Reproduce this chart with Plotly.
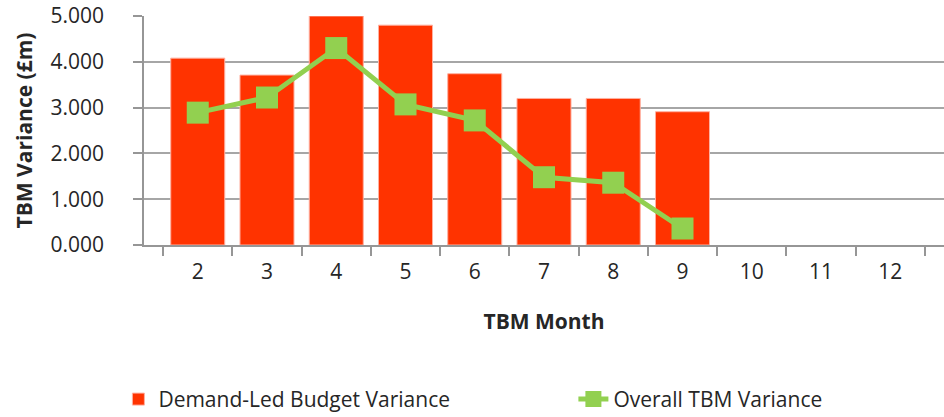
import plotly.graph_objects as go

months = ["2", "3", "4", "5", "6", "7", "8", "9", "10", "11", "12"]
demand_led = [4.08, 3.71, 5.00, 4.80, 3.74, 3.20, 3.20, 2.91, None, None, None]
overall_tbm = [2.89, 3.22, 4.30, 3.07, 2.72, 1.48, 1.36, 0.36, None, None, None]

font_family = "Open Sans, Noto Sans, sans-serif"

fig = go.Figure()
fig.add_trace(go.Bar(
    x=months, y=demand_led, name="Demand-Led Budget Variance",
    marker=dict(color="#FF3300", line=dict(color="#FFB0A0", width=1)),
))
fig.add_trace(go.Scatter(
    x=months, y=overall_tbm, name="Overall TBM Variance",
    mode="lines+markers",
    line=dict(color="#92D050", width=5),
    marker=dict(symbol="square", size=22, color="#92D050"),
))

fig.update_layout(
    width=944, height=417,
    margin=dict(l=144, r=0, t=16, b=172, autoexpand=False),
    paper_bgcolor="white", plot_bgcolor="white",
    font=dict(family=font_family, size=21, color="#262626"),
    bargap=0.22,
    showlegend=True,
    legend=dict(orientation="h", x=-0.032, xanchor="left", xref="paper",
                y=-0.585, yanchor="top", font=dict(size=21, color="#262626"),
                entrywidth=410, entrywidthmode="pixels", tracegroupgap=0),
)
fig.update_xaxes(
    type="category", showline=True, linecolor="#969696", linewidth=1.5,
    ticks="outside", tickson="boundaries", ticklen=9, tickcolor="#969696",
    tickwidth=1.5, showgrid=False, automargin=False,
    tickfont=dict(size=21), ticklabelstandoff=7,
    title=dict(text="<b>TBM Month</b>", font=dict(size=21), standoff=30),
)
fig.update_yaxes(
    range=[0, 5], dtick=1, tickformat=".3f",
    showline=True, linecolor="#969696", linewidth=1.5,
    ticks="outside", ticklen=9, tickcolor="#969696", tickwidth=1.5,
    showgrid=True, gridcolor="#A6A6A6", gridwidth=1.5,
    zeroline=False, tickfont=dict(size=21), automargin=False,
    ticklabeloverflow="allow", ticklabelstandoff=25,
    title=dict(text="<b>TBM Variance (£m)</b>", font=dict(size=21), standoff=12),
)

fig.write_html("out.html", config={"displayModeBar": False},
               post_script="document.body.style.margin='0px';")
